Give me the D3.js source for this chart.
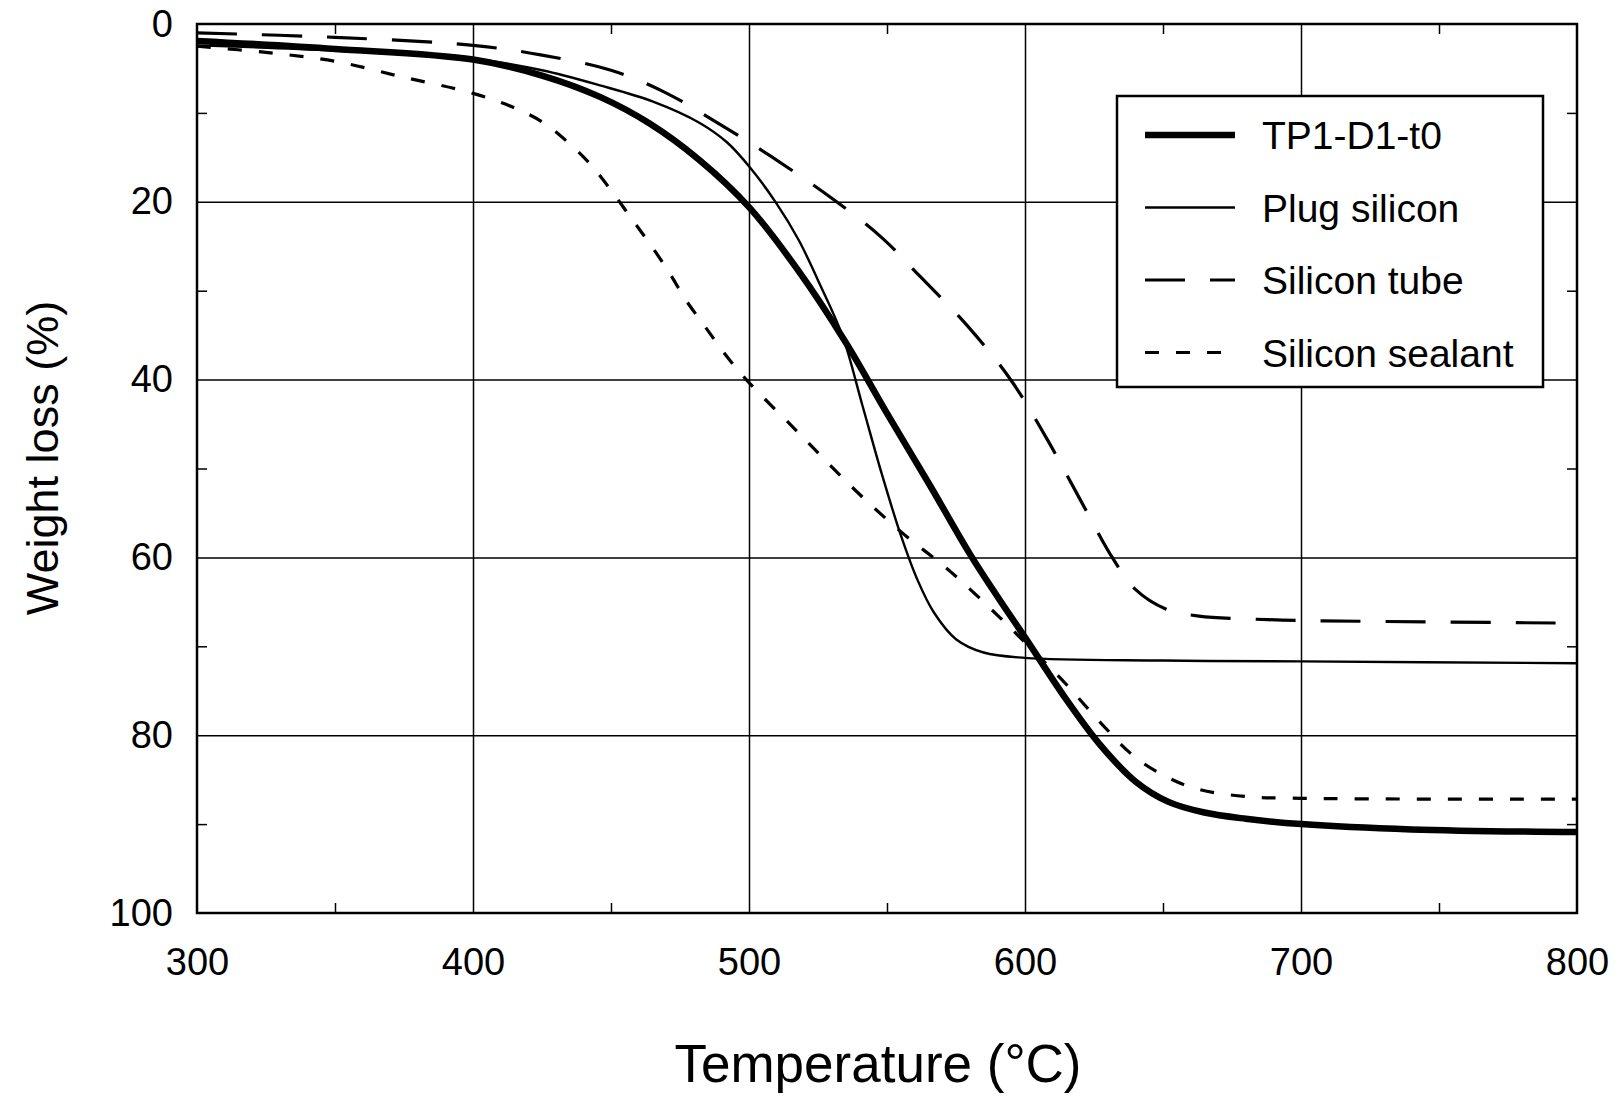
<!DOCTYPE html>
<html>
<head>
<meta charset="utf-8">
<script src="https://cdn.jsdelivr.net/npm/d3@7"></script>
<style>
  body { margin: 0; background: #fff; }
  text { font-family: "Liberation Sans", Arial, sans-serif; fill: #000; }
</style>
</head>
<body>
<svg id="chart" width="1620" height="1099"></svg>
<script>
// TGA readings: temperature (°C) and weight loss (%) for each sample
const tp1Temp = [300, 350, 400, 425, 446, 464, 482, 500, 518, 535, 550, 565, 580, 590, 600, 615, 627, 640, 652, 665, 680, 700, 740, 800];
const tp1Loss = [1.9, 2.8, 4.0, 5.8, 8.2, 11.2, 15.3, 20.6, 27.8, 35.8, 43.8, 51.6, 59.6, 64.4, 69.0, 76.0, 81.0, 85.2, 87.5, 88.7, 89.4, 90.0, 90.6, 90.9];

const plugTemp = [300, 350, 400, 425, 446, 465, 482, 492, 500, 510, 518, 526, 534, 541, 548, 555, 561, 567, 575, 585, 600, 650, 700, 800];
const plugLoss = [2.4, 3.0, 3.9, 5.2, 6.9, 8.7, 11.1, 13.3, 16.0, 20.2, 24.3, 29.5, 35.2, 42.8, 50.5, 57.5, 62.5, 66.2, 69.2, 70.7, 71.3, 71.6, 71.7, 71.9];

const tubeTemp = [300, 350, 400, 425, 450, 469, 488, 508, 530, 548, 562, 579, 595, 608, 620, 632, 640, 651, 663, 688, 700, 800];
const tubeLoss = [1.0, 1.5, 2.4, 3.5, 5.2, 7.6, 11.0, 14.9, 19.6, 24.0, 28.4, 33.9, 40.1, 46.7, 53.5, 60.2, 63.6, 65.8, 66.6, 67.0, 67.1, 67.4];

const sealTemp = [300, 325, 350, 375, 400, 417, 426, 434, 442, 450, 457, 464, 471, 477, 484, 491, 499, 518, 537, 555, 573, 591, 603, 615, 628, 640, 652, 663, 680, 700, 800];
const sealLoss = [2.5, 3.2, 4.2, 6.0, 7.8, 9.7, 11.2, 13.2, 15.6, 18.7, 21.7, 24.7, 27.9, 31.0, 34.0, 37.0, 40.0, 46.0, 52.0, 57.1, 61.6, 66.8, 70.5, 74.3, 78.8, 82.5, 84.8, 86.1, 86.9, 87.1, 87.2];

const seriesNames = ["TP1-D1-t0", "Plug silicon", "Silicon tube", "Silicon sealant"];

const xTicks = [300, 400, 500, 600, 700, 800];
const xMinor = [350, 450, 550, 650, 750];
const yTicks = [0, 20, 40, 60, 80, 100];
const yMinor = [10, 30, 50, 70, 90];

const svg = d3.select("#chart");
const plotL = 197, plotR = 1577, plotT = 24, plotB = 913;

const x = d3.scaleLinear().domain([300, 800]).range([plotL, plotR]);
const y = d3.scaleLinear().domain([0, 100]).range([plotT, plotB]);

const series = [
  { name: seriesNames[0], t: tp1Temp, v: tp1Loss, width: 6.5, dash: null },
  { name: seriesNames[1], t: plugTemp, v: plugLoss, width: 2.4, dash: null },
  { name: seriesNames[2], t: tubeTemp, v: tubeLoss, width: 3.2, dash: "40,25" },
  { name: seriesNames[3], t: sealTemp, v: sealLoss, width: 3.2, dash: "14,17" }
];

// grid lines
svg.append("g")
  .attr("transform", `translate(0,${plotB})`)
  .call(d3.axisBottom(x).tickValues(xTicks.slice(1, -1)).tickSize(-(plotB - plotT)).tickFormat(""))
  .call(g => g.select(".domain").remove())
  .selectAll("line").attr("stroke", "#000").attr("stroke-width", 1.5);

svg.append("g")
  .attr("transform", `translate(${plotL},0)`)
  .call(d3.axisLeft(y).tickValues(yTicks.slice(1, -1)).tickSize(-(plotR - plotL)).tickFormat(""))
  .call(g => g.select(".domain").remove())
  .selectAll("line").attr("stroke", "#000").attr("stroke-width", 1.5);

// small inward ticks on all four sides
const minorLen = 10;
[
  [d3.axisBottom(x).tickValues(xMinor), `translate(0,${plotB})`],
  [d3.axisTop(x).tickValues(xMinor), `translate(0,${plotT})`],
  [d3.axisLeft(y).tickValues(yMinor), `translate(${plotL},0)`],
  [d3.axisRight(y).tickValues(yMinor), `translate(${plotR},0)`]
].forEach(([ax, tr]) => {
  svg.append("g")
    .attr("transform", tr)
    .call(ax.tickSize(-minorLen).tickFormat(""))
    .call(g => g.select(".domain").remove())
    .selectAll("line").attr("stroke", "#000").attr("stroke-width", 1.5);
});

// tick labels
svg.append("g")
  .attr("transform", `translate(0,${plotB})`)
  .call(d3.axisBottom(x).tickValues(xTicks).tickSize(0).tickPadding(35))
  .call(g => g.select(".domain").remove())
  .selectAll("text")
  .attr("font-size", 38)
  .attr("font-family", "Liberation Sans, Arial, sans-serif");

svg.append("g")
  .attr("transform", `translate(${plotL},0)`)
  .call(d3.axisLeft(y).tickValues(yTicks).tickSize(0).tickPadding(24))
  .call(g => g.select(".domain").remove())
  .selectAll("text")
  .attr("font-size", 38)
  .attr("font-family", "Liberation Sans, Arial, sans-serif");

// curves
svg.append("clipPath").attr("id", "plot-clip")
  .append("rect").attr("x", plotL).attr("y", plotT - 4).attr("width", plotR - plotL + 4).attr("height", plotB - plotT + 4);

const line = d3.line()
  .x(d => x(d[0]))
  .y(d => y(d[1]))
  .curve(d3.curveCatmullRom.alpha(0.5));

svg.append("g").attr("clip-path", "url(#plot-clip)")
  .selectAll("path")
  .data(series)
  .enter()
  .append("path")
  .attr("d", s => line(s.t.map((t, i) => [t, s.v[i]])))
  .attr("fill", "none")
  .attr("stroke", "#000")
  .attr("stroke-width", s => s.width)
  .attr("stroke-dasharray", s => s.dash);

// plot frame
svg.append("rect")
  .attr("x", plotL).attr("y", plotT)
  .attr("width", plotR - plotL).attr("height", plotB - plotT)
  .attr("fill", "none").attr("stroke", "#000").attr("stroke-width", 2.5);

// legend
const legend = svg.append("g").attr("transform", "translate(1117,96)");
legend.append("rect")
  .attr("width", 426).attr("height", 291)
  .attr("fill", "#fff").attr("stroke", "#000").attr("stroke-width", 2.5);

const rows = legend.selectAll(".row")
  .data(series)
  .enter()
  .append("g")
  .attr("class", "row")
  .attr("transform", (d, i) => `translate(0,${39 + i * 72.5})`);

rows.append("line")
  .attr("x1", 28).attr("x2", 118)
  .attr("stroke", "#000")
  .attr("stroke-width", d => d.width)
  .attr("stroke-dasharray", d => d.dash);

rows.append("text")
  .attr("x", 145).attr("y", 14)
  .attr("font-size", 39)
  .text(d => d.name);

// axis titles
svg.append("text")
  .attr("x", 878).attr("y", 1082)
  .attr("text-anchor", "middle")
  .attr("font-size", 53)
  .text("Temperature (°C)");

svg.append("text")
  .attr("transform", "translate(58,458) rotate(-90)")
  .attr("text-anchor", "middle")
  .attr("font-size", 45)
  .text("Weight loss (%)");
</script>
</body>
</html>
